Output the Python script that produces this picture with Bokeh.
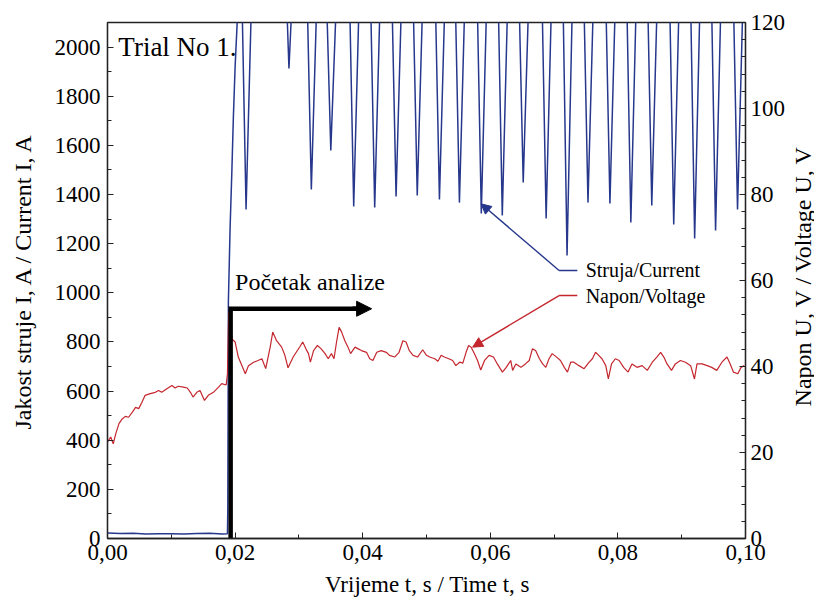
import math
from bokeh.plotting import figure
from bokeh.layouts import row, column
from bokeh.models import (Range1d, LinearAxis, FixedTicker, CustomJSTickFormatter,
                          Arrow, NormalHead)
from bokeh.core.properties import value
from bokeh.embed import file_html
from bokeh.resources import INLINE

FONT = "'Liberation Serif', 'Times New Roman', serif"
BLUE = "#26378c"
RED = "#c4262e"

# ---------------- data ----------------
volt_t = [0.0000, 0.0005, 0.0009, 0.0013, 0.0018, 0.0023, 0.0028, 0.0033, 0.0039, 0.0044,
          0.0049, 0.0054, 0.0059, 0.0067, 0.0075, 0.0080, 0.0085, 0.0093, 0.0101, 0.0106,
          0.0111, 0.0119, 0.0125, 0.0130, 0.0134, 0.0140, 0.0145, 0.0152, 0.0158, 0.0166,
          0.0174, 0.0179, 0.0186, 0.0188, 0.0190, 0.0195, 0.0200, 0.0205, 0.0216, 0.0221,
          0.0229, 0.0236, 0.0242, 0.0248, 0.0255, 0.0259, 0.0265, 0.0273, 0.0278, 0.0283,
          0.0291, 0.0302, 0.0306, 0.0311, 0.0315, 0.0318, 0.0323, 0.0329, 0.0335, 0.0341,
          0.0346, 0.0351, 0.0355, 0.0359, 0.0363, 0.0367, 0.0372, 0.0377, 0.0381, 0.0388,
          0.0393, 0.0398, 0.0406, 0.0411, 0.0416, 0.0422, 0.0429, 0.0437, 0.0442, 0.0450,
          0.0457, 0.0463, 0.0468, 0.0473, 0.0479, 0.0486, 0.0494, 0.0500, 0.0505, 0.0513,
          0.0518, 0.0523, 0.0528, 0.0535, 0.0541, 0.0546, 0.0552, 0.0557, 0.0562, 0.0566,
          0.0570, 0.0575, 0.0580, 0.0585, 0.0591, 0.0598, 0.0605, 0.0611, 0.0619, 0.0625,
          0.0632, 0.0635, 0.0640, 0.0648, 0.0655, 0.0661, 0.0666, 0.0671, 0.0677, 0.0682,
          0.0687, 0.0692, 0.0697, 0.0703, 0.0710, 0.0716, 0.0721, 0.0726, 0.0731, 0.0739,
          0.0747, 0.0755, 0.0760, 0.0765, 0.0770, 0.0775, 0.0781, 0.0785, 0.0790, 0.0796,
          0.0802, 0.0809, 0.0816, 0.0822, 0.0830, 0.0838, 0.0846, 0.0854, 0.0861, 0.0867,
          0.0872, 0.0877, 0.0884, 0.0890, 0.0898, 0.0906, 0.0914, 0.0920, 0.0924, 0.0932,
          0.0940, 0.0947, 0.0955, 0.0963, 0.0971, 0.0976, 0.0981, 0.0988, 0.0993, 0.0998]
volt_u = [22.4, 23.6, 22.0, 24.4, 26.7, 27.8, 28.4, 28.2, 29.4, 30.5,
          30.2, 31.7, 33.3, 33.7, 34.0, 34.4, 34.0, 34.8, 35.6, 35.0,
          35.4, 35.2, 35.0, 34.0, 32.9, 34.0, 34.4, 32.1, 33.3, 34.0,
          35.2, 36.0, 35.7, 38.3, 52.6, 46.4, 45.7, 42.2, 38.3, 40.2,
          41.0, 41.4, 41.8, 39.5, 44.5, 48.0, 46.0, 44.5, 42.6, 39.7,
          42.2, 44.7, 45.7, 44.1, 43.0, 41.0, 43.7, 44.9, 44.1, 43.0,
          41.8, 43.0, 41.8, 45.7, 49.1, 48.0, 46.0, 44.5, 43.0, 44.5,
          44.1, 43.7, 43.3, 41.8, 41.4, 43.3, 43.7, 43.3, 42.6, 42.2,
          43.3, 46.0, 45.7, 43.7, 42.6, 42.2, 43.9, 42.6, 42.2, 41.8,
          41.2, 42.6, 42.2, 41.8, 41.4, 40.2, 41.0, 40.8, 43.3, 44.9,
          44.5, 43.0, 41.4, 39.2, 41.4, 42.6, 42.2, 40.6, 38.7, 39.8,
          41.4, 39.1, 40.6, 39.8, 40.6, 41.4, 44.1, 43.7, 41.8, 40.6,
          39.8, 41.8, 43.0, 42.3, 41.4, 39.8, 38.7, 41.0, 41.0, 40.2,
          39.5, 41.0, 41.8, 43.3, 42.6, 41.8, 40.2, 37.1, 40.6, 41.8,
          41.4, 39.8, 38.7, 40.6, 39.8, 40.2, 39.1, 41.0, 42.2, 43.3,
          42.2, 40.6, 39.1, 40.6, 41.4, 41.0, 40.2, 37.1, 40.6, 40.6,
          40.2, 39.8, 39.1, 41.0, 42.2, 40.6, 38.7, 38.3, 39.8, 40.2]

cur_t = [0.0000, 0.0020, 0.0040, 0.0060, 0.0080, 0.0100, 0.0120, 0.0140, 0.0160, 0.0180,
         0.0188, 0.01886, 0.0189, 0.01895, 0.01922, 0.01948, 0.01973, 0.0200, 0.0204,
         0.02112, 0.02172, 0.02252,
         0.02814, 0.02844, 0.02884,
         0.03135, 0.03195, 0.03275,
         0.03440, 0.03500, 0.03580,
         0.03799, 0.03859, 0.03939,
         0.04128, 0.04188, 0.04268,
         0.04463, 0.04523, 0.04603,
         0.04795, 0.04855, 0.04935,
         0.05143, 0.05203, 0.05283,
         0.05456, 0.05516, 0.05596,
         0.05799, 0.05859, 0.05939,
         0.06128, 0.06188, 0.06268,
         0.06456, 0.06516, 0.06596,
         0.06815, 0.06875, 0.06955,
         0.07143, 0.07203, 0.07283,
         0.07471, 0.07531, 0.07611,
         0.07815, 0.07875, 0.07955,
         0.08143, 0.08203, 0.08283,
         0.08471, 0.08531, 0.08611,
         0.08815, 0.08875, 0.08955,
         0.09143, 0.09203, 0.09283,
         0.09471, 0.09531, 0.09611,
         0.09815, 0.09875, 0.09955,
         0.10000]
cur_i = [22, 20, 21, 18, 19, 19, 18, 20, 21, 18,
         19, 127, 480, 969, 1267, 1484, 1715, 1918, 2140,
         2140, 1339, 2140,
         2140, 1913, 2140,
         2140, 1420, 2140,
         2140, 1579, 2140,
         2140, 1351, 2140,
         2140, 1347, 2140,
         2140, 1392, 2140,
         2140, 1396, 2140,
         2140, 1380, 2140,
         2140, 1367, 2140,
         2140, 1323, 2140,
         2140, 1315, 2140,
         2140, 1449, 2140,
         2140, 1302, 2140,
         2140, 1152, 2140,
         2140, 1367, 2140,
         2140, 1363, 2140,
         2140, 1286, 2140,
         2140, 1355, 2140,
         2140, 1278, 2140,
         2140, 1221, 2140,
         2140, 1254, 2140,
         2140, 1339, 2140,
         2140]

x_ticks = [0.0, 0.02, 0.04, 0.06, 0.08, 0.10]
x_minor = [0.01, 0.03, 0.05, 0.07, 0.09]
i_ticks = [0, 200, 400, 600, 800, 1000, 1200, 1400, 1600, 1800, 2000]
i_minor = [100, 300, 500, 700, 900, 1100, 1300, 1500, 1700, 1900, 2100]
u_ticks = [0, 20, 40, 60, 80, 100, 120]
u_minor = [4, 8, 12, 16, 24, 28, 32, 36, 44, 48, 52, 56, 64, 68, 72, 76, 84, 88, 92, 96,
           104, 108, 112, 116]

# annotation anchors / texts
start_t = 0.0193
start_level = 935
start_arrow_end = 0.0414
trial_text = "Trial No 1."
trial_pos = (0.0017, 2000)
start_text = "Početak analize"
start_text_pos = (0.0200, 1044)
cur_label = "Struja/Current"
volt_label = "Napon/Voltage"
x_label = "Vrijeme t, s / Time t, s"
i_label = "Jakost struje I, A / Current I, A"
u_label = "Napon U, V / Voltage U, V"
note_t0, note_t1, note_text_t = 0.07078, 0.07364, 0.07495
cur_note_i = 1091
volt_note_u = 56.5
cur_arrow_tip = (0.05855, 1362)
volt_arrow_tip = (0.05723, 44.5)

# ---------------- layout sizes (pixels) ----------------
MAIN_W, MAIN_H = 788, 570       # main chart (frame 640 x 516)
SIDE_W = 26                     # strip holding the right axis title
TITLE_H = 27                    # strip holding the x axis title

# ---------------- main figure ----------------
p = figure(width=MAIN_W, height=MAIN_H, x_range=Range1d(0, 0.1), y_range=Range1d(0, 2100),
           output_backend="svg", toolbar_location=None,
           min_border_left=107, min_border_right=41, min_border_top=22, min_border_bottom=32,
           y_axis_label=i_label)
p.extra_y_ranges = {"u": Range1d(0, 120)}
p.grid.visible = False
p.outline_line_color = "#222222"
p.outline_line_width = 1.3
p.background_fill_color = "white"
p.border_fill_color = "white"

ax_r = LinearAxis(y_range_name="u")
p.add_layout(ax_r, "right")

p.xaxis[0].ticker = FixedTicker(ticks=x_ticks, minor_ticks=x_minor)
p.xaxis[0].formatter = CustomJSTickFormatter(code="return tick.toFixed(2).replace('.', ',');")
p.yaxis[0].ticker = FixedTicker(ticks=i_ticks, minor_ticks=i_minor)
ax_r.ticker = FixedTicker(ticks=u_ticks, minor_ticks=u_minor)

for ax in [p.xaxis[0], p.yaxis[0], ax_r]:
    ax.axis_label_text_font = FONT
    ax.axis_label_text_font_size = "24px"
    ax.axis_label_text_font_style = "normal"
    ax.axis_label_text_color = "black"
    ax.major_label_text_font = FONT
    ax.major_label_text_font_size = "23px"
    ax.major_label_text_color = "black"
    ax.axis_line_color = "#222222"
    ax.axis_line_width = 1.3
    ax.major_tick_line_color = "#222222"
    ax.minor_tick_line_color = "#222222"
    ax.major_tick_in = 6
    ax.major_tick_out = 0
    ax.minor_tick_in = 4
    ax.minor_tick_out = 0

p.xaxis[0].major_label_standoff = 6
p.yaxis[0].major_label_standoff = 7
p.yaxis[0].axis_label_standoff = 16
ax_r.major_label_standoff = 5

# series
p.line(cur_t, cur_i, line_color=BLUE, line_width=1.5)
p.line(volt_t, volt_u, y_range_name="u", line_color=RED, line_width=1.2)

# start-of-analysis marker
p.line([start_t, start_t, start_arrow_end - 0.002], [0, start_level, start_level],
       line_color="black", line_width=4.5, line_join="miter")
p.add_layout(Arrow(end=NormalHead(size=15, fill_color="black", line_color="black"),
                   x_start=start_arrow_end - 0.003, y_start=start_level,
                   x_end=start_arrow_end, y_end=start_level,
                   line_color="black", line_width=4.5))

# texts inside the chart
p.text(x=[trial_pos[0]], y=[trial_pos[1]], text=[trial_text], text_font=value(FONT),
       text_font_size="27px", text_color="black", text_baseline="middle")
p.text(x=[start_text_pos[0]], y=[start_text_pos[1]], text=[start_text],
       text_font=value(FONT), text_font_size="24px", text_color="black",
       text_baseline="middle")

# series notes with arrows
p.line([note_t0, note_t1], [cur_note_i, cur_note_i], line_color=BLUE, line_width=1.5)
p.add_layout(Arrow(end=NormalHead(size=10, fill_color=BLUE, line_color=BLUE),
                   x_start=note_t0, y_start=cur_note_i,
                   x_end=cur_arrow_tip[0], y_end=cur_arrow_tip[1],
                   line_color=BLUE, line_width=1.4))
p.line([note_t0, note_t1], [volt_note_u, volt_note_u], y_range_name="u",
       line_color=RED, line_width=1.5)
p.add_layout(Arrow(end=NormalHead(size=10, fill_color=RED, line_color=RED),
                   x_start=note_t0, y_start=volt_note_u,
                   x_end=volt_arrow_tip[0], y_end=volt_arrow_tip[1],
                   y_range_name="u", line_color=RED, line_width=1.4))
p.text(x=[note_text_t], y=[cur_note_i], text=[cur_label], text_font=value(FONT),
       text_font_size="20px", text_color="black", text_baseline="middle")
p.text(x=[note_text_t], y=[volt_note_u], text=[volt_label], y_range_name="u",
       text_font=value(FONT), text_font_size="20px", text_color="black",
       text_baseline="middle")


def strip(w, h):
    f = figure(width=w, height=h, x_range=Range1d(0, w), y_range=Range1d(0, h),
               output_backend="svg", toolbar_location=None,
               x_axis_location=None, y_axis_location=None, min_border=0)
    f.min_border_left = f.min_border_right = f.min_border_top = f.min_border_bottom = 0
    f.outline_line_color = None
    f.background_fill_color = "white"
    f.border_fill_color = "white"
    f.grid.visible = False
    return f


# right axis title (reads bottom-to-top, centred on the frame)
q = strip(SIDE_W, MAIN_H)
q.text(x=[14], y=[MAIN_H - 280], text=[u_label], angle=math.pi / 2,
       text_font=value(FONT), text_font_size="24px", text_color="black",
       text_align="center", text_baseline="middle")

# x axis title (centred on the frame)
r = strip(MAIN_W + SIDE_W, TITLE_H)
r.text(x=[427], y=[13.5], text=[x_label], text_font=value(FONT), text_font_size="23px",
       text_color="black", text_align="center", text_baseline="middle")

layout = column(row(p, q, spacing=0), r, spacing=0)
open("out.html", "w").write(file_html(layout, INLINE))
